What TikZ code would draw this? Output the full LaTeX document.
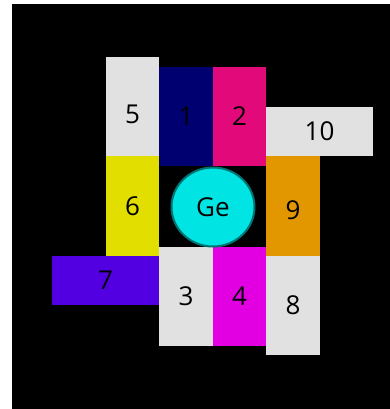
\documentclass[tikz,border=0pt]{standalone}
\usepackage{fontspec}
\setmainfont{Open Sans}
\usepackage{tikz}
\usetikzlibrary{shapes.geometric}
\definecolor{gegrey}{RGB}{225,225,225}
\definecolor{genavy}{RGB}{0,0,112}
\definecolor{gepink}{RGB}{226,10,122}
\definecolor{geyellow}{RGB}{226,222,0}
\definecolor{georange}{RGB}{226,150,0}
\definecolor{geviolet}{RGB}{82,0,226}
\definecolor{gemagenta}{RGB}{226,0,226}
\definecolor{gecyan}{RGB}{0,228,228}
\definecolor{geteal}{RGB}{0,115,115}

\begin{document}
\begin{tikzpicture}[x=1pt,y=-1pt,
  cellnum/.style={font=\fontsize{26}{26}\selectfont,text=black},
  cell/.style={anchor=north west,inner sep=0pt,outer sep=0pt,cellnum}]

\useasboundingbox (0,0) rectangle (390,409);
\fill[white] (0,0) rectangle (390,409);
\fill[black] (12,4) rectangle (390,409);

% upper row
\node[cell,fill=gegrey,minimum width=53pt,minimum height=99pt,
  label={[cellnum,yshift=-8pt]center:5}] (c5) at (106,57) {};
\node[cell,fill=genavy,minimum width=54pt,minimum height=99pt] (c1) at (159,67) {1};
\node[cell,fill=gepink,minimum width=53pt,minimum height=99pt] (c2) at (213,67) {2};
\node[cell,fill=gegrey,minimum width=107pt,minimum height=49pt] (c10) at (266,107) {10};

% middle row
\node[cell,fill=geyellow,minimum width=53pt,minimum height=100pt] (c6) at (106,156) {6};
\node[cell,fill=georange,minimum width=54pt,minimum height=100pt,
  label={[cellnum,yshift=-4pt]center:9}] (c9) at (266,156) {};

% lower row
\node[cell,fill=geviolet,minimum width=107pt,minimum height=49pt] (c7) at (52,256) {7};
\node[cell,fill=gegrey,minimum width=54pt,minimum height=99pt] (c3) at (159,247) {3};
\node[cell,fill=gemagenta,minimum width=53pt,minimum height=99pt] (c4) at (213,247) {4};
\node[cell,fill=gegrey,minimum width=54pt,minimum height=99pt] (c8) at (266,256) {8};

% germanium atom
\node[ellipse,draw=geteal,line width=2pt,fill=gecyan,inner sep=0pt,
  minimum width=83pt,minimum height=79pt,cellnum] (ge) at (213,207) {Ge};

\end{tikzpicture}
\end{document}
